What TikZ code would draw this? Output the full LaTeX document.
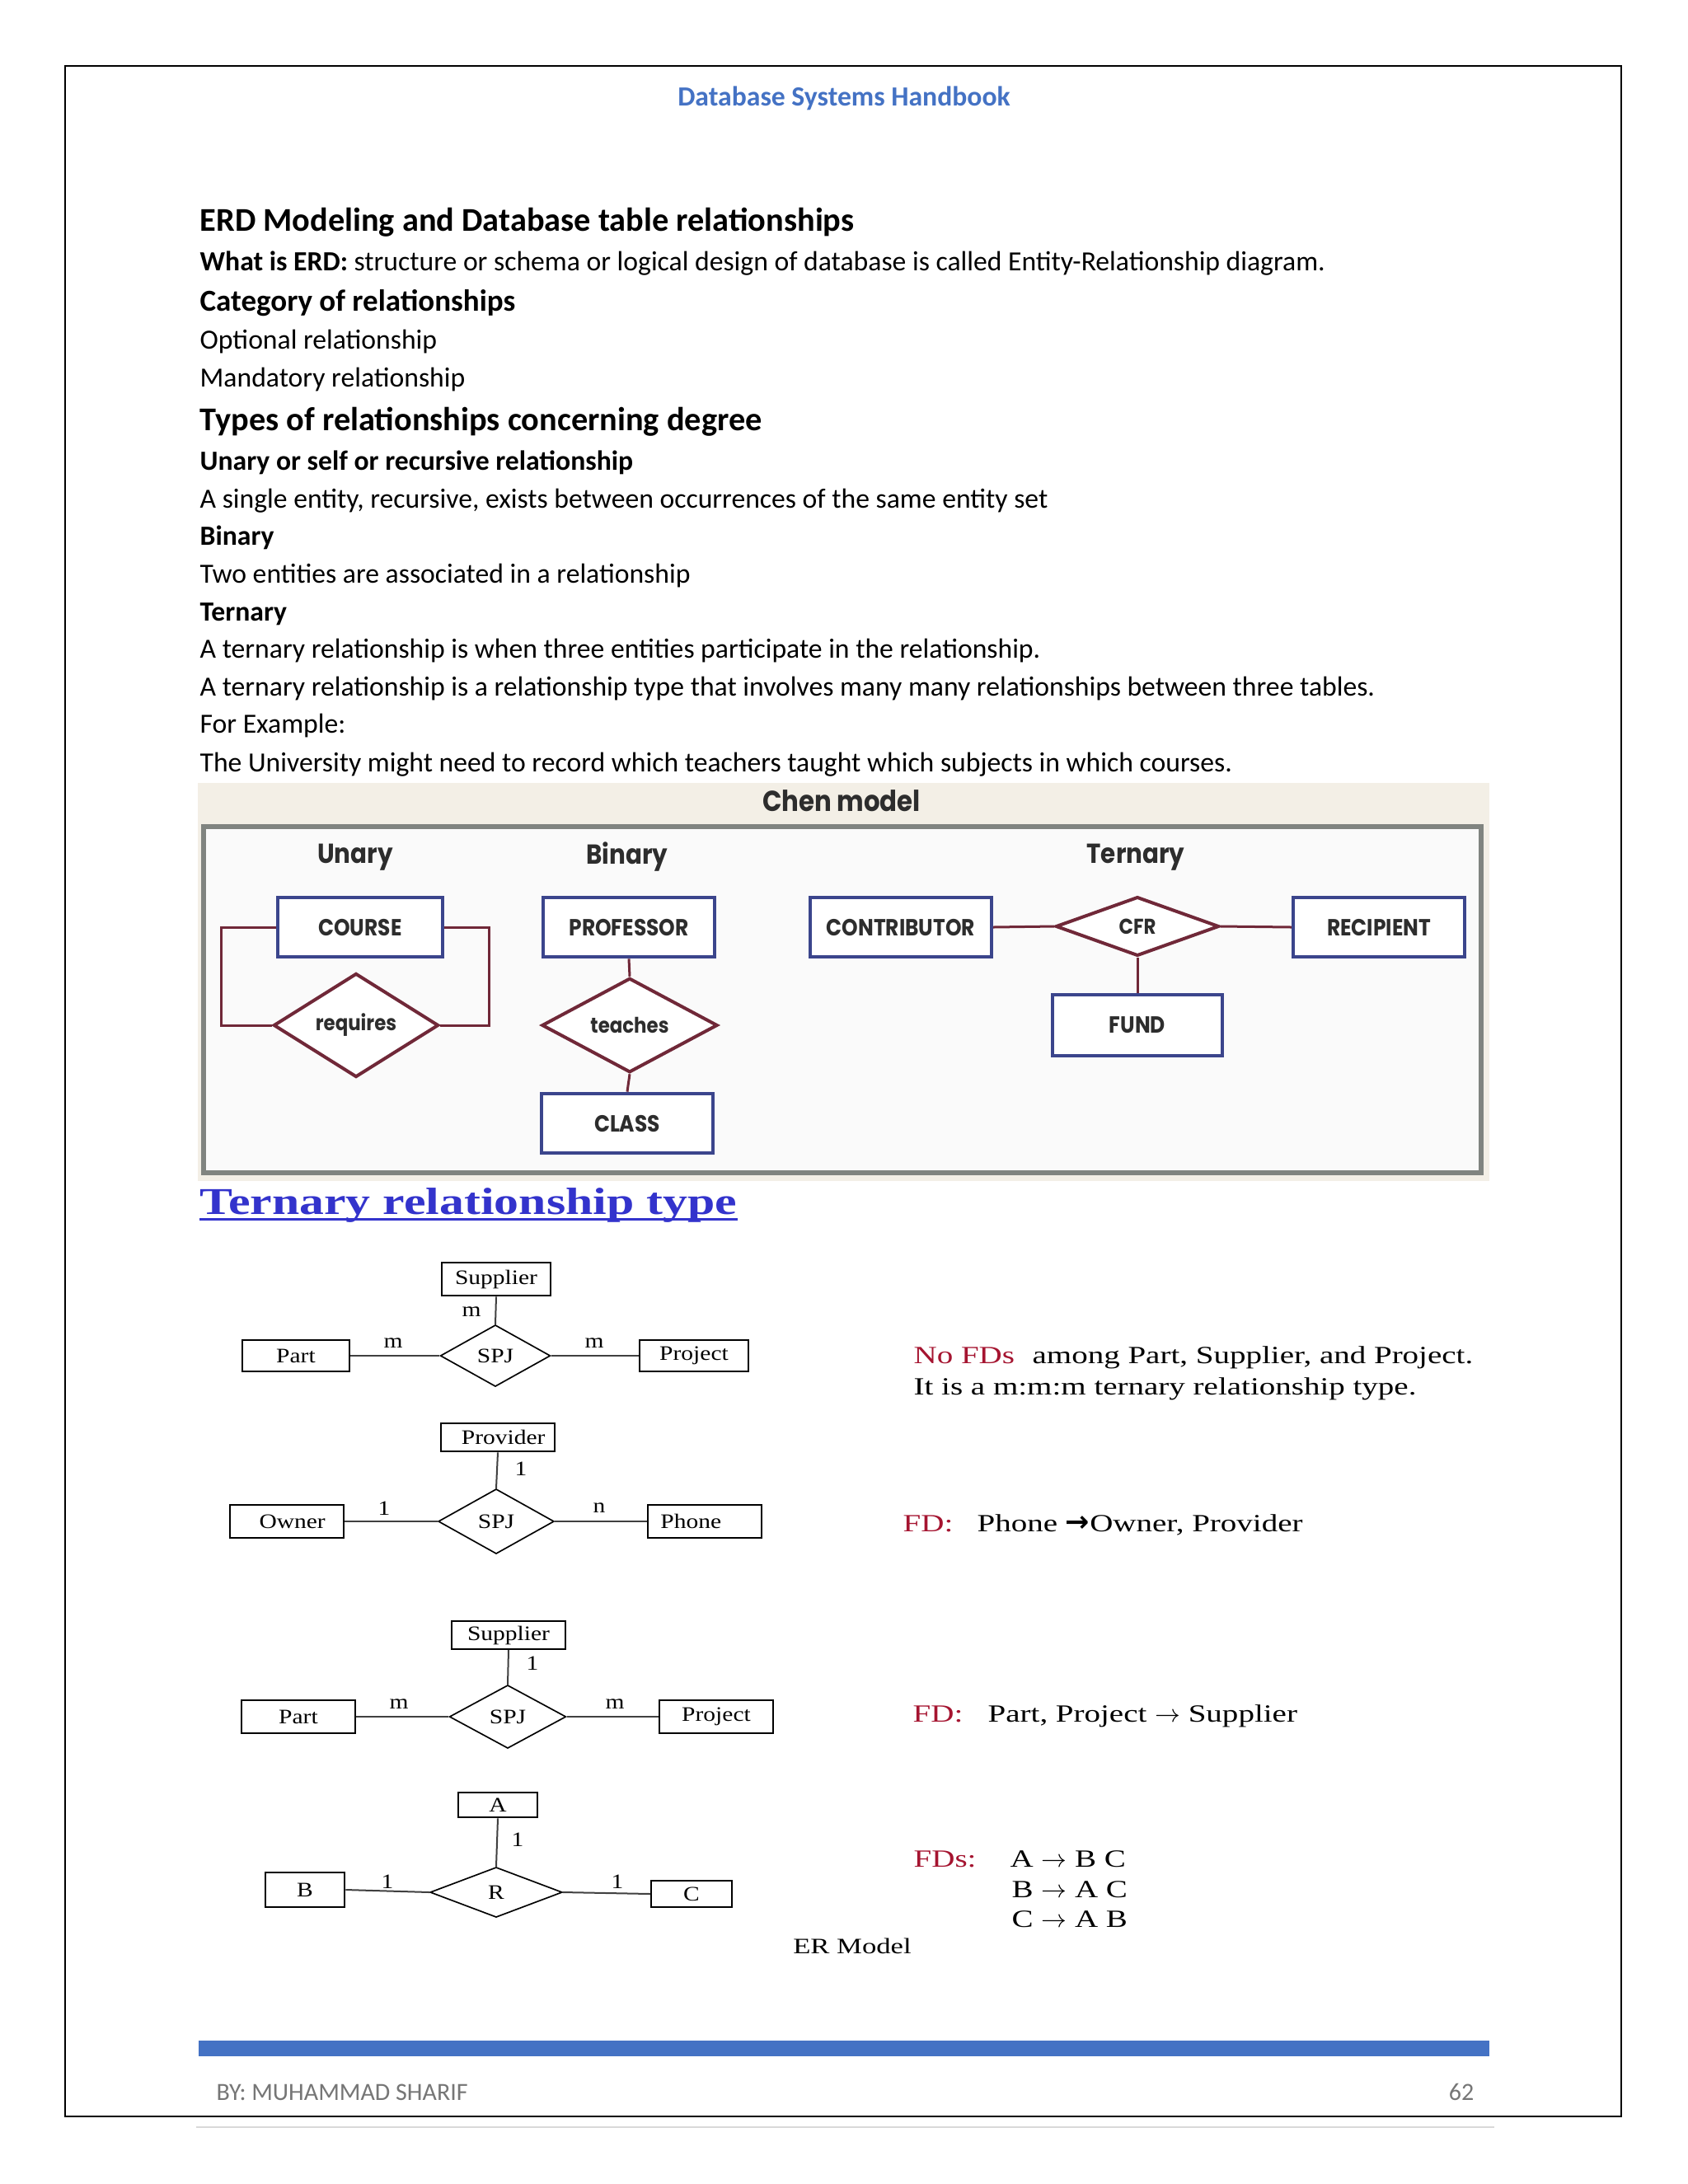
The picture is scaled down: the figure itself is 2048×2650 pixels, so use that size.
\documentclass[tikz,border=0pt]{standalone}
\usepackage{fontspec}
\setmainfont{Carlito}
\newfontfamily\erfont[FakeStretch=1.18]{Liberation Serif}
\newfontfamily\widefont[FakeStretch=1.3]{Liberation Serif}
\newfontfamily\chenfont[FakeStretch=0.88]{Poppins}
\newfontfamily\arrowfont{DejaVu Sans}
\usetikzlibrary{shapes.geometric,calc}

\begin{document}
\begin{tikzpicture}[x=0.010542cm, y=-0.010542cm,
    boxsize/.style 2 args={minimum width=#1*0.29883pt, minimum height=#2*0.29883pt},
    body/.style={anchor=base west, inner sep=0pt, font=\fontsize{10.1}{12}\selectfont},
    chenent/.style={rectangle, draw=entblue, line width=1.2pt, fill=white, inner sep=0pt,
        text=chentext, font=\chenfont\bfseries\fontsize{8.5}{10}\selectfont},
    chenrel/.style={diamond, draw=relred, line width=1.2pt, fill=white, inner sep=0pt,
        text=chentext, font=\chenfont\bfseries\fontsize{7.8}{10}\selectfont},
    chenlink/.style={draw=relred, line width=0.9pt},
    chenhead/.style={text=chentext, font=\chenfont\bfseries\fontsize{10}{12}\selectfont},
    erent/.style={rectangle, draw, line width=0.6pt, fill=white, inner sep=0pt,
        font=\erfont\fontsize{7.5}{9}\selectfont},
    errel/.style={diamond, draw, line width=0.5pt, fill=white, inner sep=0pt,
        font=\erfont\fontsize{7.5}{9}\selectfont},
    erlink/.style={draw=black!75, line width=0.6pt},
    card/.style={inner sep=0pt, font=\erfont\fontsize{7.5}{9}\selectfont},
    fdtext/.style={anchor=base west, inner sep=0pt, font=\widefont\fontsize{9}{11}\selectfont}]
    % Define colors
    \definecolor{headblue}{RGB}{68, 114, 196}
    \definecolor{entblue}{RGB}{59, 69, 140}
    \definecolor{relred}{RGB}{112, 40, 56}
    \definecolor{chentext}{RGB}{45, 45, 45}
    \definecolor{chenbg}{RGB}{243, 239, 230}
    \definecolor{chenin}{RGB}{250, 250, 250}
    \definecolor{framegray}{RGB}{128, 132, 128}
    \definecolor{ttlblue}{RGB}{51, 51, 204}
    \definecolor{fdred}{RGB}{165, 20, 48}
    \definecolor{footgray}{RGB}{118, 118, 118}

    % Page
    \useasboundingbox (0,0) rectangle (2048,2650);
    \fill[white] (0,0) rectangle (2048,2650);
    \draw[line width=0.7pt] (79,80) rectangle (1967,2568);

    % Header
    \node[text=headblue, font=\bfseries\fontsize{10.1}{12}\selectfont, anchor=base, inner sep=0pt] (hdr) at (1024,128) {Database Systems Handbook};

    % Text lines
    \node[body, font=\bfseries\fontsize{12.1}{15}\selectfont] (h1) at (242,280) {ERD Modeling and Database table relationships};
    \node[body] (erd) at (242,328) {\textbf{What is ERD:} structure or schema or logical design of database is called Entity-Relationship diagram.};
    \node[body, font=\bfseries\fontsize{11.1}{14}\selectfont] (h2) at (242,377) {Category of relationships};
    \node[body] (opt) at (242,423) {Optional relationship};
    \node[body] (mand) at (242,469) {Mandatory relationship};
    \node[body, font=\bfseries\fontsize{12.1}{15}\selectfont] (h3) at (242,522) {Types of relationships concerning degree};
    \node[body, font=\bfseries\fontsize{10.1}{12}\selectfont] (un) at (242,570) {Unary or self or recursive relationship};
    \node[body] (unt) at (242,616) {A single entity, recursive, exists between occurrences of the same entity set};
    \node[body, font=\bfseries\fontsize{10.1}{12}\selectfont] (bin) at (242,661) {Binary};
    \node[body] (bint) at (242,707) {Two entities are associated in a relationship};
    \node[body, font=\bfseries\fontsize{10.1}{12}\selectfont] (ter) at (242,753) {Ternary};
    \node[body] (tert) at (242,798) {A ternary relationship is when three entities participate in the relationship.};
    \node[body] (tert2) at (242,844) {A ternary relationship is a relationship type that involves many many relationships between three tables.};
    \node[body] (forex) at (242,889) {For Example:};
    \node[body] (univ) at (242,936) {The University might need to record which teachers taught which subjects in which courses.};

    % Chen model panel
    \fill[chenbg] (240,950) rectangle (1807,1433);
    \draw[framegray, line width=1.6pt, fill=chenin] (247,1003) rectangle (1797,1423);
    \node[text=chentext, font=\chenfont\bfseries\fontsize{10.5}{12}\selectfont] (chen) at (1021,972) {Chen model};
    \node[chenhead] (unary) at (431,1040) {Unary};
    \node[chenhead] (binary) at (761,1040) {Binary};
    \node[chenhead] (ternary) at (1378,1040) {Ternary};

    % Chen - unary
    \node[chenent, boxsize={201}{73}] (course) at (437,1125) {COURSE};
    \node[chenrel, boxsize={201}{74}] (requires) at (432,1244) {requires};
    \draw[chenlink] (course.west) -- ++(-66,0) |- (requires.west);
    \draw[chenlink] (course.east) -- ++(54,0) |- (requires.east);

    % Chen - binary
    \node[chenent, boxsize={209}{73}] (professor) at (763,1125) {PROFESSOR};
    \node[chenrel, boxsize={214}{72}] (teaches) at (764,1244) {teaches};
    \node[chenent, boxsize={208}{73}] (class) at (761,1363) {CLASS};
    \draw[chenlink] (professor.south) -- (teaches.north);
    \draw[chenlink] (teaches.south) -- (class.north);

    % Chen - ternary
    \node[chenent, boxsize={221}{73}] (contributor) at (1093,1125) {CONTRIBUTOR};
    \node[chenrel, boxsize={199}{72}] (cfr) at (1380,1124) {CFR};
    \node[chenent, boxsize={209}{73}] (recipient) at (1673,1125) {RECIPIENT};
    \node[chenent, boxsize={207}{74}] (fund) at (1380,1244) {FUND};
    \draw[chenlink] (contributor.east) -- (cfr.west);
    \draw[chenlink] (cfr.east) -- (recipient.west);
    \draw[chenlink] (cfr.south) -- (fund.north);

    % Ternary relationship type heading
    \node[anchor=base west, inner sep=0pt, text=ttlblue, font=\widefont\bfseries\fontsize{13.8}{16}\selectfont] (ttl) at (242,1473) {Ternary relationship type};
    \draw[ttlblue, line width=0.9pt] ($(ttl.base west)+(0,6)$) -- ($(ttl.base east)+(0,6)$);

    % ER 1: m:m:m
    \node[erent, boxsize={132}{41}] (sup1) at (602,1552) {Supplier};
    \node[erent, boxsize={131}{38}] (part1) at (359,1645) {Part};
    \node[errel, boxsize={134}{75}] (spj1) at (601,1645) {SPJ};
    \node[erent, boxsize={132}{38}] (proj1) at (842,1645) {Project};
    \draw[erlink] (sup1.south) -- (spj1.north);
    \draw[erlink] (part1.east) -- (spj1.west);
    \draw[erlink] (spj1.east) -- (proj1.west);
    \node[card] (c1a) at (572,1592) {m};
    \node[card] (c1b) at (477,1630) {m};
    \node[card] (c1c) at (721,1630) {m};

    % ER 2: 1:1:n
    \node[erent, boxsize={138}{35}] (prov2) at (604,1744) {\hspace*{4pt}Provider};
    \node[erent, boxsize={138}{41}] (own2) at (348,1846) {\hspace*{4pt}Owner};
    \node[errel, boxsize={141}{79}] (spj2) at (602,1846) {SPJ};
    \node[erent, boxsize={139}{41}] (phone2) at (855,1846) {Phone\hspace*{10pt}};
    \draw[erlink] (prov2.south) -- (spj2.north);
    \draw[erlink] (own2.east) -- (spj2.west);
    \draw[erlink] (spj2.east) -- (phone2.west);
    \node[card] (c2a) at (632,1782) {1};
    \node[card] (c2b) at (466,1830) {1};
    \node[card] (c2c) at (727,1830) {n};

    % ER 3: m:m:1
    \node[erent, boxsize={139}{34}] (sup3) at (617,1984) {Supplier};
    \node[erent, boxsize={139}{40}] (part3) at (362,2083) {Part};
    \node[errel, boxsize={142}{77}] (spj3) at (616,2083) {SPJ};
    \node[erent, boxsize={139}{40}] (proj3) at (869,2083) {Project};
    \draw[erlink] (sup3.south) -- (spj3.north);
    \draw[erlink] (part3.east) -- (spj3.west);
    \draw[erlink] (spj3.east) -- (proj3.west);
    \node[card] (c3a) at (646,2018) {1};
    \node[card] (c3b) at (484,2068) {m};
    \node[card] (c3c) at (746,2068) {m};

    % ER 4: 1:1:1
    \node[erent, boxsize={97}{31}] (a4) at (604,2190) {A};
    \node[erent, boxsize={97}{42}] (b4) at (370,2293) {B};
    \node[errel, boxsize={161}{61}] (r4) at (602,2296) {R};
    \node[erent, boxsize={98}{32}] (c4) at (839,2298) {C};
    \draw[erlink] (a4.south) -- (r4.north);
    \draw[erlink] (b4.east) -- (r4.west);
    \draw[erlink] (r4.east) -- (c4.west);
    \node[card] (c4a) at (628,2232) {1};
    \node[card] (c4b) at (470,2283) {1};
    \node[card] (c4c) at (749,2283) {1};
    \node[fdtext, anchor=base, font=\widefont\fontsize{8}{10}\selectfont] (ermodel) at (1034,2370) {ER Model};

    % FD notes
    \node[fdtext, text=fdred] (nofd) at (1108,1654) {No FDs};
    \node[fdtext] (among) at (1252,1654) {among Part, Supplier, and Project.};
    \node[fdtext] (mmm) at (1108,1692) {It is a m:m:m ternary relationship type.};
    \node[fdtext, text=fdred] (fd2) at (1095,1858) {FD:};
    \node[fdtext] (fd2t) at (1185,1858) {Phone {\arrowfont\bfseries\fontsize{10.5}{11}\selectfont →}Owner, Provider};
    \node[fdtext, text=fdred] (fd3) at (1107,2089) {FD:};
    \node[fdtext] (fd3t) at (1198,2089) {Part, Project $\rightarrow$ Supplier};
    \node[fdtext, text=fdred] (fd4) at (1108,2265) {FDs:};
    \node[fdtext] (fd4a) at (1225,2265) {A $\rightarrow$ B C};
    \node[fdtext] (fd4b) at (1227,2302) {B $\rightarrow$ A C};
    \node[fdtext] (fd4c) at (1227,2338) {C $\rightarrow$ A B};

    % Footer
    \fill[headblue] (241,2476) rectangle (1807,2495);
    \node[body, text=footgray, font=\fontsize{9}{11}\selectfont] (by) at (262,2548) {BY: MUHAMMAD SHARIF};
    \node[anchor=base east, inner sep=0pt, text=footgray, font=\fontsize{9}{11}\selectfont] (pg) at (1789,2548) {62};
    \draw[black!15, line width=0.6pt] (238,2581) -- (1813,2581);
\end{tikzpicture}
\end{document}
